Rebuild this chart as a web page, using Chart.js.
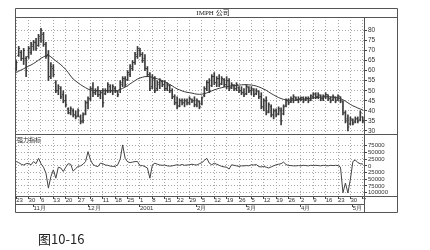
<!DOCTYPE html>
<html><head><meta charset="utf-8">
<script src="https://cdn.jsdelivr.net/npm/chart.js@4/dist/chart.umd.min.js"></script>
<style>
html,body{margin:0;padding:0;background:#fff;}
#wrap{position:relative;width:430px;height:250px;}
#cap{position:absolute;left:38px;top:232px;font-size:13px;line-height:13px;font-family:"Noto Sans CJK SC",sans-serif;color:#222;}
</style>
</head><body>
<div id="wrap"><canvas id="c" width="430" height="250"></canvas><div id="cap">图10-16</div></div>
<script>
const chartTitle = 'IMPH 公司';
const panelLabel = '强力指标';
// trading-day categories: weekdays from 2000-10-23 through 2001-05-07
const categories = [];
(function(){ const d = new Date(Date.UTC(2000,9,23)); while (categories.length < 141) { const wd = d.getUTCDay(); if (wd > 0 && wd < 6) categories.push(d.toISOString().slice(0,10)); d.setUTCDate(d.getUTCDate()+1); } })();
const monthLabels = {'2000-11':'11月','2000-12':'12月','2001-01':'2001','2001-02':'2月','2001-03':'3月','2001-04':'4月','2001-05':'5月'};
const priceTicks = [30,35,40,45,50,55,60,65,70,75,80];
const forceTicks = [75000,50000,25000,0,-25000,-50000,-75000,-100000];

const high = [65,72,70,71,67,72,74,75,76,78, 81,79,74,70,64,63,55,53,52,50, 48,41.5,42,41,40,41,38,39,45,47, 52,54,51,52,50,51,51,54,53,53, 52,50,55,57,57,60,63,65,69,72, 71,69,68,62,59,58,57,55,56,55, 55,54,53,51,48,47,46,46,46,46, 47,46,47,46,45,47,52,55,56,58, 59,57,58,57,56,57,56,54,53,54, 52,52,51,53,52,52,51,51,50,49, 46,47,44,43,41,41,42,41.5,43,46, 46,47,48,47,47,47,47,47,47,48, 49,49,49,48,48,49,48,47,48,47, 48,47,45,40,38,37,36,37,37,40, 37];
const low = [60,67,65,63,57,66,68,70,70,72, 74,72,66,55,56,57,49,48,46,44, 42,38.5,38,37,36,37,33.5,34,38,41, 45,47,48,47,46,42,48,49,49,48, 49,47,49,52,52,55,57,60,63,66, 67,64,60,57,50,51,49,50,51,52, 50,50,49,46,43,41,42,43,42,43, 43,44,42,42,41,43,47,50,49,52, 53,52,52,53,52,51,50,51,50,50, 49,48,47,48,49,48,47,48,46,41, 40,38,39,37,36,37,38,33,38,42, 43,44,44,45,44,45,44,45,44,45, 46,46,46,45,45,46,45,44,45,44, 45,44,38,34,30,33,33,34,34,35, 34];
const open = [61,67.5,69,66,66,67,69,72,74,72.5, 76,78,73,68,57,61,54,50,51,48, 45,41,39,40,38,37.5,37,35,38.5,44, 46,51,49,50,48,49,48.5,50,52,50, 51,49.5,50.5,53,56,55.5,58,61,64,67, 70,68,66,61,58,52,56,51,53,54.5, 53,51,52.5,50,47,44,42.5,45,44,45, 44,45.5,45,43,44.5,43.5,47.5,51,54,52.5, 57,54,56,53.5,55.5,53,55,51.5,52.5,51, 51.5,50,49,48.5,51.5,50,50.5,48.5,49.5,47, 42,45,39.5,42,38,40,38.5,40,38.5,42.5, 45,44.5,46,46.5,45.5,46,46.5,45.5,46,45.5, 47,48,47,47.5,46,47,48,46,45.5,46.5, 45.5,47,44.5,39,36,33.5,35.5,34.5,36,35.5, 37];
const close = [64,71,66,70,60,71,73,74,71,77, 80,73,67,57,62,58,50,52,47,45, 43,39,41,38,37,40,34.5,38,44,46, 51,49,50,48,49,44,50,53,50,52, 50,48,54,56,53,59,62,64,68,71, 68,65,61,58,51,56,50,54,55,53, 51,53,50,47,44,42,45,44,45,44, 46,45,43,45,42,46.5,51,54,50,57, 54,56,53,56,53,55,51,53,51,53, 50,49,48,52,50,51,48,50,47,42, 45,39,43,38,40,38,41,35,42,45, 44,46,47,45.5,46,46.5,45,46.5,45,47.5, 48.5,47,48,46,47.5,48,46,45,47,45, 47.5,45,39,35,32,36,34,36,35,39, 35];
const movingAvg = [59.0,59.7,60.3,60.9,61.6,62.2,62.8,63.5,64.3,65.2, 66.1,66.8,67.4,67.6,66.8,65.8,64.8,63.9,62.9,61.8, 60.5,59.0,57.3,55.8,54.8,53.9,53.0,52.2,51.5,50.8, 50.3,50.1,50.0,50.0,50.0,50.0,50.0,50.0,50.0,50.0, 50.0,50.1,50.6,51.2,51.8,52.5,53.4,54.2,55.0,55.8, 56.3,56.7,57.0,57.0,57.0,56.6,56.2,55.9,55.5,55.0, 54.5,53.8,53.1,52.4,51.6,50.9,50.4,49.9,49.5,49.2, 49.0,48.8,48.5,48.3,48.2,48.3,48.5,48.9,49.4,49.9, 50.4,50.8,51.2,51.5,51.8,52.0,52.2,52.4,52.5,52.6, 52.8,52.9,53.0,53.0,52.9,52.8,52.6,52.3,51.9,51.4, 50.8,50.2,49.4,48.6,47.9,47.2,46.6,46.1,45.7,45.4, 45.3,45.3,45.3,45.4,45.5,45.6,45.8,45.9,46.1,46.3, 46.4,46.6,46.7,46.8,46.9,47.0,47.0,46.9,46.8,46.6, 46.4,46.1,45.5,44.8,44.0,43.2,42.5,42.0,41.4,40.9, 40.5];
const forceIndex = [16000,12000,6000,3000,8000,9000,4000,16000,8000,28000, 8000,-5000,-27000,-83000,-40000,-15000,-46000,-5000,-8000,-21000, -5000,8000,6000,-20000,-10000,-2000,0,6000,16000,53000, 22000,5000,0,-3000,10000,8000,3000,2000,-1000,-2000, -2000,4000,25000,78000,28000,15000,12000,14000,16000,16000, 0,1000,-3000,-8000,-46000,3000,10000,6000,3000,2000, 3000,0,-1000,0,2000,4000,2000,5000,2000,3000, 4000,6000,4000,3000,8000,12000,20000,28000,10000,4000, 10000,6000,2000,-2000,-4000,-5000,-12000,4000,2000,0, -2000,0,0,1000,0,4000,3000,5000,-3000,-4000, -2000,-5000,-8000,-4000,0,4000,6000,8000,14000,5000, 1000,1000,0,0,1000,0,2000,1000,0,2000, 1000,2000,1000,0,2000,1000,0,2000,1000,2000, 1000,-5000,-100000,-64000,-101000,-50000,16000,22000,12000,8000, 7000];

const isMonday = categories.map(s => new Date(s + 'T00:00:00Z').getUTCDay() === 1);
const monthText = categories.map((s, i) => (i > 0 && s.slice(0,7) !== categories[i-1].slice(0,7)) ? (monthLabels[s.slice(0,7)] || '') : '');

const GRID = '#a8a8a8', TICK = '#444', CLEAR = 'rgba(0,0,0,0)', INK = '#3c3c3c';
Chart.defaults.font.family = '"Liberation Sans", Arial, sans-serif';
Chart.defaults.color = '#333';

const framePlugin = {
  id: 'frame',
  afterDraw(chart) {
    const ctx = chart.ctx, a = chart.chartArea, s = chart.scales;
    const L = 15.5, R = 397.5, T = 8.5, B = 212.5;
    const yb = Math.round(s.y.bottom) + 0.5, fb = Math.round(s.y2.bottom) + 0.5;
    const xb = Math.round(s.x.bottom) + 0.5, top = Math.round(a.top) + 0.5, right = Math.round(a.right) + 0.5;
    ctx.save();
    ctx.strokeStyle = '#555'; ctx.lineWidth = 1; ctx.setLineDash([]);
    ctx.beginPath();
    ctx.rect(L, T, R - L, B - T);
    ctx.moveTo(L, top); ctx.lineTo(R, top);
    ctx.moveTo(L, yb); ctx.lineTo(R, yb);
    ctx.moveTo(L, fb); ctx.lineTo(R, fb);
    ctx.moveTo(L, xb); ctx.lineTo(right, xb);
    ctx.moveTo(right, top); ctx.lineTo(right, B);
    ctx.stroke();
    ctx.fillStyle = '#222';
    ctx.font = '7px "Liberation Serif", "Noto Sans CJK SC", serif';
    ctx.textAlign = 'center'; ctx.textBaseline = 'middle';
    ctx.fillText(chartTitle, 213, 13);
    ctx.font = '6px "Noto Sans CJK SC", sans-serif';
    ctx.textAlign = 'left';
    ctx.fillText(panelLabel, 17, 140);
    ctx.restore();
  }
};

new Chart(document.getElementById('c'), {
  type: 'bar',
  data: {
    labels: categories,
    datasets: [
      { type: 'bar', data: low.map((l, i) => [l, high[i]]), backgroundColor: INK, barThickness: 1, yAxisID: 'y', xAxisID: 'x', order: 3 },
      { type: 'line', data: open, showLine: false, pointStyle: 'dash', pointRadius: 1.4, pointBorderWidth: 1, pointBorderColor: INK, pointRotation: 180, yAxisID: 'y', xAxisID: 'x', order: 2 },
      { type: 'line', data: close, showLine: false, pointStyle: 'dash', pointRadius: 1.4, pointBorderWidth: 1, pointBorderColor: INK, pointRotation: 0, yAxisID: 'y', xAxisID: 'x', order: 2 },
      { type: 'line', data: movingAvg, borderColor: '#3a3a3a', borderWidth: 1, pointRadius: 0, yAxisID: 'y', xAxisID: 'x', order: 1 },
      { type: 'line', data: forceIndex, borderColor: '#444', borderWidth: 1, pointRadius: 0, yAxisID: 'y2', xAxisID: 'x', order: 1 }
    ]
  },
  options: {
    responsive: false, animation: false, events: [],
    layout: { padding: { left: 15, right: 33, top: 17, bottom: 38 } },
    plugins: { legend: { display: false }, tooltip: { enabled: false }, title: { display: false } },
    scales: {
      x: {
        type: 'category', position: 'bottom', offset: true,
        grid: { offset: false, drawOnChartArea: true, drawTicks: true, tickLength: 3, lineWidth: 1,
          color: c => isMonday[c.index] ? GRID : CLEAR, tickColor: c => isMonday[c.index] ? TICK : CLEAR },
        border: { display: false, dash: [1, 2] },
        ticks: { autoSkip: false, maxRotation: 0, minRotation: 0, align: 'start', padding: -2, font: { size: 6 }, color: '#333',
          callback: (v, i) => isMonday[i] ? String(Number(categories[i].slice(8))) : '' },
        afterFit: s => { s.height = 8; }
      },
      x2: {
        type: 'category', position: 'bottom', offset: true,
        grid: { offset: false, drawOnChartArea: false, drawTicks: true, tickLength: 3,
          color: c => monthText[c.index] ? TICK : CLEAR },
        border: { display: false },
        ticks: { autoSkip: false, maxRotation: 0, minRotation: 0, align: 'start', padding: -2, font: { size: 6 }, color: '#333',
          callback: (v, i) => monthText[i] },
        afterFit: s => { s.height = 8; }
      },
      y: {
        type: 'linear', position: 'right', stack: 'panels', stackWeight: 117, min: 28.5, max: 86.6,
        afterBuildTicks: s => { s.ticks = priceTicks.map(v => ({ value: v })); },
        ticks: { autoSkip: false, padding: 1, font: { size: 6.5 }, color: '#333', callback: v => String(v) },
        grid: { tickLength: 3, color: GRID, tickColor: TICK },
        border: { display: false, dash: [1, 2] },
        afterFit: s => { s.width = 33; }
      },
      y2: {
        type: 'linear', position: 'right', stack: 'panels', stackWeight: 62, min: -112300, max: 118600,
        afterBuildTicks: s => { s.ticks = forceTicks.map(v => ({ value: v })); },
        ticks: { autoSkip: false, padding: 1, font: { size: 6 }, color: '#333', callback: v => String(Math.abs(v)) },
        grid: { tickLength: 3, color: GRID, tickColor: TICK },
        border: { display: false, dash: [1, 2] },
        afterFit: s => { s.width = 33; }
      }
    }
  },
  plugins: [framePlugin]
});
</script>
</body></html>
